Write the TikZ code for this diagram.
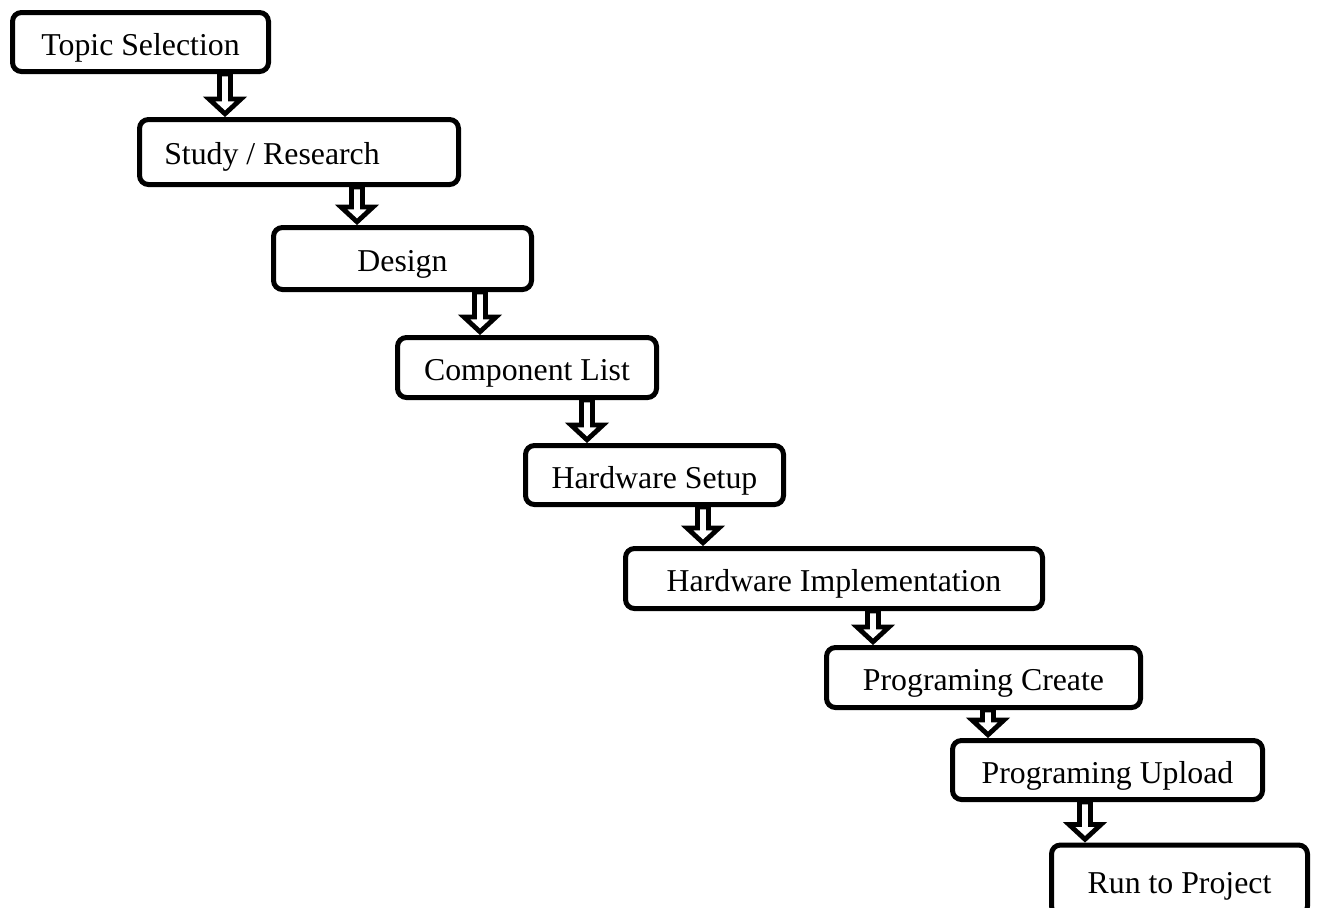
\documentclass[tikz,border=0pt]{standalone}
\usepackage{fontspec}
\setmainfont{Liberation Serif}
\usetikzlibrary{calc}
\tikzset{
  stepbox/.style={draw=black, line width=2.5pt, rounded corners=4.5pt, fill=white,
    inner sep=0pt, text height=15pt, text depth=2pt, font=\fontsize{15.9}{18}\selectfont},
  txt/.style={inner sep=0pt, text height=15pt, text depth=2pt, font=\fontsize{15.9}{18}\selectfont},
  barrow/.style={draw=black, line width=2.4pt, fill=white, line join=miter, miter limit=10}
}
\newcommand{\blockarrow}[3]{%
  \draw[barrow] let \p1=(#2.south), \p2=(#3.north) in
    ({#1*0.5pt-2.75pt},\y1) -- ({#1*0.5pt-2.75pt},{\y2+9pt}) -- ({#1*0.5pt-8pt},{\y2+9pt})
    -- ({#1*0.5pt},{\y2+1.6pt}) -- ({#1*0.5pt+8pt},{\y2+9pt}) -- ({#1*0.5pt+2.75pt},{\y2+9pt})
    -- ({#1*0.5pt+2.75pt},\y1) -- cycle;}
\begin{document}
\begin{tikzpicture}[x=0.5pt,y=-0.5pt]
\useasboundingbox (0,0) rectangle (1319,907);
\clip (0,0) rectangle (1319,907);
\node[stepbox, minimum width=128pt, minimum height=29.5pt] (b1) at (140.5,42) {Topic Selection};
\node[stepbox, minimum width=159.5pt, minimum height=32.5pt] (b2) at (299,152) {};
\node[txt] (t2) at (272,151) {Study / Research};
\node[stepbox, minimum width=129pt, minimum height=31pt] (b3) at (402.5,258.5) {Design};
\node[stepbox, minimum width=129.5pt, minimum height=30pt] (b4) at (527,367.5) {Component List};
\node[stepbox, minimum width=129pt, minimum height=29.5pt] (b5) at (654.5,475) {Hardware Setup};
\node[stepbox, minimum width=208.5pt, minimum height=30pt] (b6) at (834,578.5) {Hardware Implementation};
\node[stepbox, minimum width=157pt, minimum height=30pt] (b7) at (983.5,677.5) {Programing Create};
\node[stepbox, minimum width=155pt, minimum height=29.5pt] (b8) at (1107.5,770) {Programing Upload};
\node[stepbox, minimum width=128pt, minimum height=35pt] (b9) at (1179.5,880) {Run to Project};
\blockarrow{225}{b1}{b2}
\blockarrow{357}{b2}{b3}
\blockarrow{480}{b3}{b4}
\blockarrow{587}{b4}{b5}
\blockarrow{703}{b5}{b6}
\blockarrow{873}{b6}{b7}
\blockarrow{988}{b7}{b8}
\blockarrow{1085}{b8}{b9}
\end{tikzpicture}
\end{document}
